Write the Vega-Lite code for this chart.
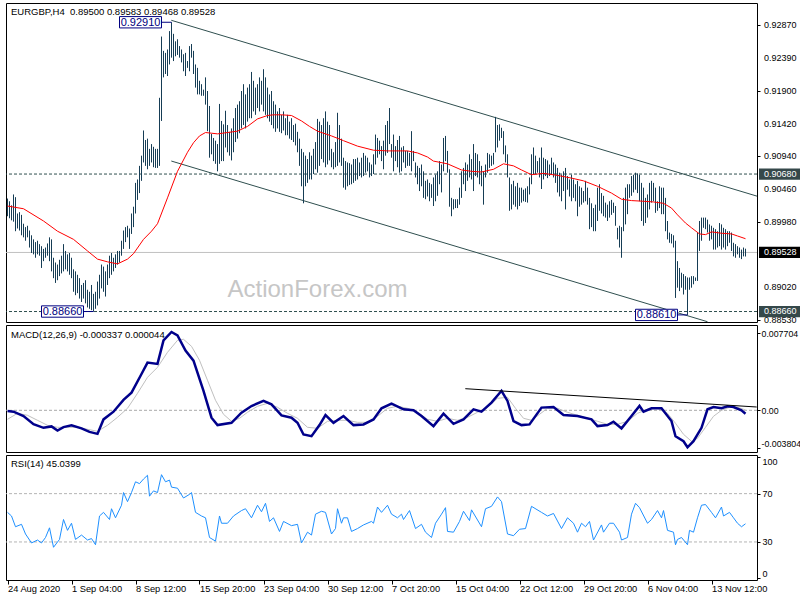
{
"$schema": "https://vega.github.io/schema/vega-lite/v6.json",
"background": "white",
"padding": {"left": 2, "top": 2, "right": 0, "bottom": 0},
"spacing": 3,
"bounds": "flush",
"config": {"view": {"stroke": "#000", "strokeWidth": 1}, "font": "Liberation Sans", "axis": {"labelFont": "Liberation Sans"}},
"datasets": {
"bars": [
{"i":0,"h":0.9032,"l":0.9006},{"i":1,"h":0.9028,"l":0.9003},{"i":2,"h":0.9022,"l":0.9000},{"i":3,"h":0.9038,"l":0.8998},{"i":4,"h":0.9034,"l":0.8984},{"i":5,"h":0.9010,"l":0.8988},{"i":6,"h":0.9012,"l":0.8985},{"i":7,"h":0.9008,"l":0.8978},{"i":8,"h":0.8995,"l":0.8975},{"i":9,"h":0.8990,"l":0.8970},
{"i":10,"h":0.8992,"l":0.8975},{"i":11,"h":0.8985,"l":0.8960},{"i":12,"h":0.8978,"l":0.8952},{"i":13,"h":0.8972,"l":0.8950},{"i":14,"h":0.8968,"l":0.8945},{"i":15,"h":0.8970,"l":0.8950},{"i":16,"h":0.8965,"l":0.8948},{"i":17,"h":0.8962,"l":0.8930},{"i":18,"h":0.8958,"l":0.8940},{"i":19,"h":0.8960,"l":0.8945},
{"i":20,"h":0.8966,"l":0.8948},{"i":21,"h":0.8975,"l":0.8940},{"i":22,"h":0.8972,"l":0.8925},{"i":23,"h":0.8945,"l":0.8915},{"i":24,"h":0.8938,"l":0.8908},{"i":25,"h":0.8935,"l":0.8912},{"i":26,"h":0.8942,"l":0.8918},{"i":27,"h":0.8948,"l":0.8922},{"i":28,"h":0.8965,"l":0.8925},{"i":29,"h":0.8955,"l":0.8928},
{"i":30,"h":0.8950,"l":0.8925},{"i":31,"h":0.8952,"l":0.8920},{"i":32,"h":0.8945,"l":0.8915},{"i":33,"h":0.8928,"l":0.8895},{"i":34,"h":0.8925,"l":0.8890},{"i":35,"h":0.8920,"l":0.8893},{"i":36,"h":0.8915,"l":0.8885},{"i":37,"h":0.8905,"l":0.8880},{"i":38,"h":0.8908,"l":0.8885},{"i":39,"h":0.8912,"l":0.8878},
{"i":40,"h":0.8898,"l":0.8872},{"i":41,"h":0.8895,"l":0.8870},{"i":42,"h":0.8905,"l":0.8868},{"i":43,"h":0.8892,"l":0.8866},{"i":44,"h":0.8895,"l":0.8870},{"i":45,"h":0.8910,"l":0.8875},{"i":46,"h":0.8920,"l":0.8885},{"i":47,"h":0.8935,"l":0.8900},{"i":48,"h":0.8932,"l":0.8895},{"i":49,"h":0.8925,"l":0.8888},
{"i":50,"h":0.8935,"l":0.8905},{"i":51,"h":0.8948,"l":0.8915},{"i":52,"h":0.8952,"l":0.8920},{"i":53,"h":0.8945,"l":0.8925},{"i":54,"h":0.8950,"l":0.8930},{"i":55,"h":0.8955,"l":0.8935},{"i":56,"h":0.8955,"l":0.8938},{"i":57,"h":0.8970,"l":0.8948},{"i":58,"h":0.8985,"l":0.8958},{"i":59,"h":0.8990,"l":0.8968},
{"i":60,"h":0.8992,"l":0.8975},{"i":61,"h":0.8988,"l":0.8958},{"i":62,"h":0.9010,"l":0.8980},{"i":63,"h":0.9020,"l":0.8990},{"i":64,"h":0.9055,"l":0.9010},{"i":65,"h":0.9060,"l":0.9030},{"i":66,"h":0.9080,"l":0.9040},{"i":67,"h":0.9095,"l":0.9058},{"i":68,"h":0.9132,"l":0.9085},{"i":69,"h":0.9118,"l":0.9080},
{"i":70,"h":0.9120,"l":0.9075},{"i":71,"h":0.9105,"l":0.9080},{"i":72,"h":0.9112,"l":0.9085},{"i":73,"h":0.9108,"l":0.9078},{"i":74,"h":0.9105,"l":0.9077},{"i":75,"h":0.9105,"l":0.9077},{"i":76,"h":0.9180,"l":0.9080},{"i":77,"h":0.9270,"l":0.9146},{"i":78,"h":0.9249,"l":0.9210},{"i":79,"h":0.9246,"l":0.9215},
{"i":80,"h":0.9251,"l":0.9212},{"i":81,"h":0.9278,"l":0.9229},{"i":82,"h":0.9291,"l":0.9239},{"i":83,"h":0.9274,"l":0.9234},{"i":84,"h":0.9263,"l":0.9241},{"i":85,"h":0.9266,"l":0.9243},{"i":86,"h":0.9256,"l":0.9239},{"i":87,"h":0.9251,"l":0.9232},{"i":88,"h":0.9244,"l":0.9219},{"i":89,"h":0.9246,"l":0.9212},
{"i":90,"h":0.9234,"l":0.9224},{"i":91,"h":0.9256,"l":0.9219},{"i":92,"h":0.9259,"l":0.9239},{"i":93,"h":0.9249,"l":0.9215},{"i":94,"h":0.9229,"l":0.9195},{"i":95,"h":0.9224,"l":0.9185},{"i":96,"h":0.9205,"l":0.9185},{"i":97,"h":0.9200,"l":0.9183},{"i":98,"h":0.9192,"l":0.9183},{"i":99,"h":0.9210,"l":0.9170},
{"i":100,"h":0.9190,"l":0.9131},{"i":101,"h":0.9168,"l":0.9092},{"i":102,"h":0.9127,"l":0.9097},{"i":103,"h":0.9121,"l":0.9087},{"i":104,"h":0.9117,"l":0.9083},{"i":105,"h":0.9112,"l":0.9072},{"i":106,"h":0.9171,"l":0.9083},{"i":107,"h":0.9146,"l":0.9087},{"i":108,"h":0.9141,"l":0.9087},{"i":109,"h":0.9161,"l":0.9107},
{"i":110,"h":0.9140,"l":0.9100},{"i":111,"h":0.9130,"l":0.9095},{"i":112,"h":0.9135,"l":0.9088},{"i":113,"h":0.9150,"l":0.9100},{"i":114,"h":0.9165,"l":0.9115},{"i":115,"h":0.9170,"l":0.9120},{"i":116,"h":0.9175,"l":0.9128},{"i":117,"h":0.9190,"l":0.9135},{"i":118,"h":0.9200,"l":0.9140},{"i":119,"h":0.9185,"l":0.9135},
{"i":120,"h":0.9195,"l":0.9145},{"i":121,"h":0.9200,"l":0.9150},{"i":122,"h":0.9218,"l":0.9150},{"i":123,"h":0.9205,"l":0.9160},{"i":124,"h":0.9195,"l":0.9155},{"i":125,"h":0.9200,"l":0.9165},{"i":126,"h":0.9210,"l":0.9160},{"i":127,"h":0.9205,"l":0.9170},{"i":128,"h":0.9222,"l":0.9160},{"i":129,"h":0.9210,"l":0.9155},
{"i":130,"h":0.9195,"l":0.9150},{"i":131,"h":0.9185,"l":0.9145},{"i":132,"h":0.9190,"l":0.9140},{"i":133,"h":0.9175,"l":0.9135},{"i":134,"h":0.9170,"l":0.9130},{"i":135,"h":0.9160,"l":0.9135},{"i":136,"h":0.9165,"l":0.9130},{"i":137,"h":0.9155,"l":0.9128},{"i":138,"h":0.9160,"l":0.9132},{"i":139,"h":0.9150,"l":0.9125},
{"i":140,"h":0.9155,"l":0.9125},{"i":141,"h":0.9145,"l":0.9120},{"i":142,"h":0.9150,"l":0.9118},{"i":143,"h":0.9140,"l":0.9115},{"i":144,"h":0.9142,"l":0.9110},{"i":145,"h":0.9130,"l":0.9100},{"i":146,"h":0.9120,"l":0.9080},{"i":147,"h":0.9105,"l":0.9050},{"i":148,"h":0.9100,"l":0.9025},{"i":149,"h":0.9095,"l":0.9050},
{"i":150,"h":0.9090,"l":0.9055},{"i":151,"h":0.9100,"l":0.9060},{"i":152,"h":0.9095,"l":0.9060},{"i":153,"h":0.9105,"l":0.9068},{"i":154,"h":0.9115,"l":0.9075},{"i":155,"h":0.9149,"l":0.9070},{"i":156,"h":0.9145,"l":0.9080},{"i":157,"h":0.9140,"l":0.9090},{"i":158,"h":0.9150,"l":0.9085},{"i":159,"h":0.9160,"l":0.9078},
{"i":160,"h":0.9145,"l":0.9082},{"i":161,"h":0.9140,"l":0.9088},{"i":162,"h":0.9105,"l":0.9078},{"i":163,"h":0.9100,"l":0.9075},{"i":164,"h":0.9115,"l":0.9078},{"i":165,"h":0.9158,"l":0.9080},{"i":166,"h":0.9140,"l":0.9085},{"i":167,"h":0.9120,"l":0.9080},{"i":168,"h":0.9092,"l":0.9048},{"i":169,"h":0.9087,"l":0.9045},
{"i":170,"h":0.9085,"l":0.9050},{"i":171,"h":0.9084,"l":0.9052},{"i":172,"h":0.9082,"l":0.9053},{"i":173,"h":0.9090,"l":0.9055},{"i":174,"h":0.9090,"l":0.9058},{"i":175,"h":0.9092,"l":0.9060},{"i":176,"h":0.9085,"l":0.9065},{"i":177,"h":0.9092,"l":0.9063},{"i":178,"h":0.9099,"l":0.9065},{"i":179,"h":0.9095,"l":0.9070},
{"i":180,"h":0.9092,"l":0.9072},{"i":181,"h":0.9085,"l":0.9063},{"i":182,"h":0.9082,"l":0.9065},{"i":183,"h":0.9097,"l":0.9068},{"i":184,"h":0.9126,"l":0.9082},{"i":185,"h":0.9121,"l":0.9092},{"i":186,"h":0.9117,"l":0.9097},{"i":187,"h":0.9109,"l":0.9087},{"i":188,"h":0.9117,"l":0.9075},{"i":189,"h":0.9140,"l":0.9095},
{"i":190,"h":0.9146,"l":0.9099},{"i":191,"h":0.9165,"l":0.9112},{"i":192,"h":0.9112,"l":0.9092},{"i":193,"h":0.9126,"l":0.9072},{"i":194,"h":0.9109,"l":0.9087},{"i":195,"h":0.9118,"l":0.9078},{"i":196,"h":0.9124,"l":0.9070},{"i":197,"h":0.9107,"l":0.9072},{"i":198,"h":0.9109,"l":0.9085},{"i":199,"h":0.9102,"l":0.9077},
{"i":200,"h":0.9102,"l":0.9080},{"i":201,"h":0.9099,"l":0.9080},{"i":202,"h":0.9131,"l":0.9072},{"i":203,"h":0.9102,"l":0.9087},{"i":204,"h":0.9085,"l":0.9063},{"i":205,"h":0.9080,"l":0.9053},{"i":206,"h":0.9077,"l":0.9043},{"i":207,"h":0.9082,"l":0.9050},{"i":208,"h":0.9072,"l":0.9033},{"i":209,"h":0.9058,"l":0.9031},
{"i":210,"h":0.9060,"l":0.9035},{"i":211,"h":0.9055,"l":0.9028},{"i":212,"h":0.9053,"l":0.9033},{"i":213,"h":0.9063,"l":0.9021},{"i":214,"h":0.9067,"l":0.9028},{"i":215,"h":0.9072,"l":0.9036},{"i":216,"h":0.9087,"l":0.9053},{"i":217,"h":0.9082,"l":0.9041},{"i":218,"h":0.9121,"l":0.9072},{"i":219,"h":0.9124,"l":0.9087},
{"i":220,"h":0.9102,"l":0.9070},{"i":221,"h":0.9075,"l":0.9020},{"i":222,"h":0.9033,"l":0.9006},{"i":223,"h":0.9031,"l":0.9016},{"i":224,"h":0.9031,"l":0.9018},{"i":225,"h":0.9031,"l":0.9018},{"i":226,"h":0.9048,"l":0.9023},{"i":227,"h":0.9072,"l":0.9033},{"i":228,"h":0.9077,"l":0.9053},{"i":229,"h":0.9085,"l":0.9043},
{"i":230,"h":0.9082,"l":0.9058},{"i":231,"h":0.9097,"l":0.9063},{"i":232,"h":0.9090,"l":0.9060},{"i":233,"h":0.9112,"l":0.9043},{"i":234,"h":0.9099,"l":0.9065},{"i":235,"h":0.9097,"l":0.9063},{"i":236,"h":0.9087,"l":0.9053},{"i":237,"h":0.9080,"l":0.9050},{"i":238,"h":0.9072,"l":0.9023},{"i":239,"h":0.9082,"l":0.9063},
{"i":240,"h":0.9099,"l":0.9070},{"i":241,"h":0.9097,"l":0.9077},{"i":242,"h":0.9095,"l":0.9080},{"i":243,"h":0.9099,"l":0.9082},{"i":244,"h":0.9152,"l":0.9100},{"i":245,"h":0.9140,"l":0.9107},{"i":246,"h":0.9141,"l":0.9117},{"i":247,"h":0.9136,"l":0.9121},{"i":248,"h":0.9131,"l":0.9097},{"i":249,"h":0.9110,"l":0.9085},
{"i":250,"h":0.9097,"l":0.9063},{"i":251,"h":0.9063,"l":0.9014},{"i":252,"h":0.9053,"l":0.9016},{"i":253,"h":0.9058,"l":0.9023},{"i":254,"h":0.9050,"l":0.9020},{"i":255,"h":0.9055,"l":0.9016},{"i":256,"h":0.9048,"l":0.9021},{"i":257,"h":0.9048,"l":0.9026},{"i":258,"h":0.9045,"l":0.9028},{"i":259,"h":0.9047,"l":0.9027},
{"i":260,"h":0.9050,"l":0.9026},{"i":261,"h":0.9063,"l":0.9038},{"i":262,"h":0.9097,"l":0.9053},{"i":263,"h":0.9107,"l":0.9068},{"i":264,"h":0.9095,"l":0.9068},{"i":265,"h":0.9087,"l":0.9070},{"i":266,"h":0.9092,"l":0.9063},{"i":267,"h":0.9107,"l":0.9046},{"i":268,"h":0.9092,"l":0.9060},{"i":269,"h":0.9090,"l":0.9065},
{"i":270,"h":0.9088,"l":0.9062},{"i":271,"h":0.9082,"l":0.9065},{"i":272,"h":0.9092,"l":0.9067},{"i":273,"h":0.9085,"l":0.9063},{"i":274,"h":0.9082,"l":0.9055},{"i":275,"h":0.9077,"l":0.9041},{"i":276,"h":0.9070,"l":0.9035},{"i":277,"h":0.9067,"l":0.9028},{"i":278,"h":0.9072,"l":0.9043},{"i":279,"h":0.9077,"l":0.9016},
{"i":280,"h":0.9065,"l":0.9045},{"i":281,"h":0.9060,"l":0.9035},{"i":282,"h":0.9067,"l":0.9028},{"i":283,"h":0.9060,"l":0.9033},{"i":284,"h":0.9053,"l":0.9028},{"i":285,"h":0.9058,"l":0.9006},{"i":286,"h":0.9050,"l":0.9020},{"i":287,"h":0.9048,"l":0.9023},{"i":288,"h":0.9043,"l":0.9026},{"i":289,"h":0.9058,"l":0.9028},
{"i":290,"h":0.9048,"l":0.9023},{"i":291,"h":0.9033,"l":0.8987},{"i":292,"h":0.9025,"l":0.8990},{"i":293,"h":0.9018,"l":0.8984},{"i":294,"h":0.9023,"l":0.8984},{"i":295,"h":0.9048,"l":0.8999},{"i":296,"h":0.9053,"l":0.9014},{"i":297,"h":0.9040,"l":0.9010},{"i":298,"h":0.9036,"l":0.9006},{"i":299,"h":0.9026,"l":0.9004},
{"i":300,"h":0.9023,"l":0.8999},{"i":301,"h":0.9028,"l":0.9004},{"i":302,"h":0.9030,"l":0.9008},{"i":303,"h":0.9026,"l":0.9011},{"i":304,"h":0.9021,"l":0.8992},{"i":305,"h":0.8989,"l":0.8972},{"i":306,"h":0.8992,"l":0.8960},{"i":307,"h":0.8990,"l":0.8945},{"i":308,"h":0.9033,"l":0.8984},{"i":309,"h":0.9048,"l":0.8994},
{"i":310,"h":0.9053,"l":0.9009},{"i":311,"h":0.9053,"l":0.9033},{"i":312,"h":0.9065,"l":0.9036},{"i":313,"h":0.9067,"l":0.9041},{"i":314,"h":0.9070,"l":0.9045},{"i":315,"h":0.9069,"l":0.9040},{"i":316,"h":0.9067,"l":0.9028},{"i":317,"h":0.9055,"l":0.8999},{"i":318,"h":0.9048,"l":0.8992},{"i":319,"h":0.9033,"l":0.8996},
{"i":320,"h":0.9038,"l":0.9004},{"i":321,"h":0.9055,"l":0.9016},{"i":322,"h":0.9058,"l":0.9026},{"i":323,"h":0.9055,"l":0.9028},{"i":324,"h":0.9048,"l":0.9011},{"i":325,"h":0.9028,"l":0.9014},{"i":326,"h":0.9050,"l":0.9018},{"i":327,"h":0.9048,"l":0.9009},{"i":328,"h":0.9048,"l":0.9009},{"i":329,"h":0.9033,"l":0.8984},
{"i":330,"h":0.8999,"l":0.8972},{"i":331,"h":0.8982,"l":0.8967},{"i":332,"h":0.8980,"l":0.8966},{"i":333,"h":0.8978,"l":0.8960},{"i":334,"h":0.8970,"l":0.8886},{"i":335,"h":0.8940,"l":0.8901},{"i":336,"h":0.8930,"l":0.8896},{"i":337,"h":0.8923,"l":0.8901},{"i":338,"h":0.8921,"l":0.8891},{"i":339,"h":0.8918,"l":0.8898},
{"i":340,"h":0.8916,"l":0.8861},{"i":341,"h":0.8916,"l":0.8898},{"i":342,"h":0.8918,"l":0.8901},{"i":343,"h":0.8918,"l":0.8906},{"i":344,"h":0.8916,"l":0.8911},{"i":345,"h":0.8982,"l":0.8911},{"i":346,"h":0.8999,"l":0.8955},{"i":347,"h":0.9004,"l":0.8970},{"i":348,"h":0.9004,"l":0.8989},{"i":349,"h":0.9004,"l":0.8987},
{"i":350,"h":0.9001,"l":0.8982},{"i":351,"h":0.8994,"l":0.8970},{"i":352,"h":0.8992,"l":0.8972},{"i":353,"h":0.8989,"l":0.8957},{"i":354,"h":0.8987,"l":0.8957},{"i":355,"h":0.8984,"l":0.8960},{"i":356,"h":0.8996,"l":0.8962},{"i":357,"h":0.8994,"l":0.8957},{"i":358,"h":0.8989,"l":0.8960},{"i":359,"h":0.8987,"l":0.8957},
{"i":360,"h":0.8984,"l":0.8962},{"i":361,"h":0.8984,"l":0.8967},{"i":362,"h":0.8982,"l":0.8955},{"i":363,"h":0.8967,"l":0.8947},{"i":364,"h":0.8965,"l":0.8945},{"i":365,"h":0.8962,"l":0.8950},{"i":366,"h":0.8960,"l":0.8945},{"i":367,"h":0.8957,"l":0.8943},{"i":368,"h":0.8960,"l":0.8947},{"i":369,"h":0.89583,"l":0.89468}
],
"ma": [
{"i":0,"m":0.9021},{"i":8,"m":0.9017},{"i":18,"m":0.8999},{"i":25,"m":0.8984},{"i":33,"m":0.8972},{"i":40,"m":0.8955},{"i":45,"m":0.8943},{"i":50,"m":0.8939},{"i":55,"m":0.8936},{"i":60,"m":0.8943},{"i":63,"m":0.8951},{"i":68,"m":0.8972},{"i":72,"m":0.8984},{"i":75,"m":0.8995},{"i":80,"m":0.9033},{"i":85,"m":0.9072},{"i":90,"m":0.9100},{"i":93,"m":0.9114},{"i":96,"m":0.9124},{"i":99,"m":0.9129},{"i":102,"m":0.9128},{"i":105,"m":0.9127},{"i":110,"m":0.9129},{"i":115,"m":0.9131},{"i":120,"m":0.9138},{"i":125,"m":0.9149},{"i":130,"m":0.9154},{"i":133,"m":0.9155},{"i":137,"m":0.9155},{"i":142,"m":0.9154},{"i":147,"m":0.9146},{"i":151,"m":0.9138},{"i":155,"m":0.9131},{"i":162,"m":0.9124},{"i":168,"m":0.9117},{"i":175,"m":0.9109},{"i":183,"m":0.9103},{"i":190,"m":0.9102},{"i":200,"m":0.9102},{"i":205,"m":0.9099},{"i":210,"m":0.9093},{"i":213,"m":0.9087},{"i":220,"m":0.9083},{"i":227,"m":0.9074},{"i":232,"m":0.9072},{"i":237,"m":0.9071},{"i":243,"m":0.9075},{"i":248,"m":0.9083},{"i":253,"m":0.9080},{"i":257,"m":0.9074},{"i":262,"m":0.9067},{"i":268,"m":0.9069},{"i":275,"m":0.9066},{"i":282,"m":0.9062},{"i":288,"m":0.9058},{"i":295,"m":0.9050},{"i":302,"m":0.9040},{"i":307,"m":0.9031},{"i":312,"m":0.9029},{"i":318,"m":0.9028},{"i":323,"m":0.9027},{"i":328,"m":0.9025},{"i":332,"m":0.9018},{"i":335,"m":0.9008},{"i":339,"m":0.8996},{"i":342,"m":0.8989},{"i":346,"m":0.8980},{"i":349,"m":0.8979},{"i":352,"m":0.8983},{"i":357,"m":0.8981},{"i":362,"m":0.8980},{"i":365,"m":0.8977},{"i":369,"m":0.8973}
],
"chan": [{"g":"up","i":81.9,"p":0.92939},{"g":"up","i":374.75,"p":0.90355},{"g":"lo","i":81.9,"p":0.90871},{"g":"lo","i":350,"p":0.8851}],
"ann": [{"i":82,"p":0.9291,"t":"0.92910"},{"i":43,"p":0.8866,"t":"0.88660"},{"i":340,"p":0.8861,"t":"0.88610"}],
"hl": [{"p":0.9068,"t":"0.90680","k":"level"},{"p":0.89528,"t":"0.89528","k":"bid"},{"p":0.8866,"t":"0.88660","k":"level"}],
"yl": [{"p":0.9287},{"p":0.9239},{"p":0.919},{"p":0.9142},{"p":0.9094},{"p":0.9046},{"p":0.8998},{"p":0.8902},{"p":0.8853}],
"macd": [
{"i":0,"d":-0.00007},{"i":3,"d":-0.00014},{"i":8,"d":-0.00057},{"i":13,"d":-0.00138},{"i":18,"d":-0.00175},{"i":22,"d":-0.00161},{"i":25,"d":-0.00202},{"i":28,"d":-0.00168},{"i":32,"d":-0.00151},{"i":37,"d":-0.00181},{"i":41,"d":-0.00216},{"i":45,"d":-0.00236},{"i":48,"d":-0.00091},{"i":53,"d":-0.00014},{"i":58,"d":0.00104},{"i":62,"d":0.00177},{"i":67,"d":0.00363},{"i":70,"d":0.00477},{"i":75,"d":0.00464},{"i":78,"d":0.00699},{"i":82,"d":0.00783},{"i":85,"d":0.00749},{"i":89,"d":0.00598},{"i":93,"d":0.00497},{"i":98,"d":0.00195},{"i":102,"d":-0.00074},{"i":105,"d":-0.00148},{"i":112,"d":-0.00125},{"i":117,"d":-0.00024},{"i":122,"d":0.00043},{"i":128,"d":0.00094},{"i":132,"d":0.0006},{"i":137,"d":-0.00051},{"i":142,"d":-0.00074},{"i":145,"d":-0.00125},{"i":148,"d":-0.00242},{"i":152,"d":-0.00259},{"i":156,"d":-0.00148},{"i":159,"d":-0.00047},{"i":163,"d":-0.00125},{"i":168,"d":-0.00057},{"i":173,"d":-0.00148},{"i":178,"d":-0.00141},{"i":183,"d":-0.00091},{"i":187,"d":0.0002},{"i":192,"d":0.00067},{"i":198,"d":0.0001},{"i":203,"d":0},{"i":207,"d":-0.00057},{"i":213,"d":-0.00158},{"i":218,"d":-0.00034},{"i":223,"d":-0.00135},{"i":228,"d":-0.00091},{"i":233,"d":0.0001},{"i":237,"d":-0.00014},{"i":242,"d":0.00077},{"i":247,"d":0.00195},{"i":250,"d":0.00094},{"i":253,"d":-0.00108},{"i":257,"d":-0.00148},{"i":261,"d":-0.00141},{"i":267,"d":0.00027},{"i":273,"d":0.00033},{"i":278,"d":-0.00047},{"i":285,"d":-0.00057},{"i":292,"d":-0.00091},{"i":295,"d":-0.00158},{"i":300,"d":-0.00148},{"i":303,"d":-0.00114},{"i":307,"d":-0.00181},{"i":312,"d":-0.00057},{"i":316,"d":0.00044},{"i":318,"d":-0.00014},{"i":322,"d":0.0002},{"i":327,"d":0.0002},{"i":332,"d":-0.00108},{"i":334,"d":-0.00259},{"i":338,"d":-0.00309},{"i":340,"d":-0.0037},{"i":343,"d":-0.00309},{"i":347,"d":-0.00175},{"i":350,"d":0.0001},{"i":353,"d":0.00033},{"i":357,"d":0.0002},{"i":360,"d":0.0004},{"i":363,"d":0.00033},{"i":367,"d":0},{"i":369,"d":-0.00034}
],
"sig": [
{"i":0,"s":-0.0009},{"i":5,"s":-0.0003},{"i":10,"s":-0.0005},{"i":15,"s":-0.001},{"i":20,"s":-0.0015},{"i":25,"s":-0.0017},{"i":30,"s":-0.0017},{"i":35,"s":-0.0017},{"i":40,"s":-0.0019},{"i":45,"s":-0.0021},{"i":50,"s":-0.0015},{"i":55,"s":-0.0007},{"i":60,"s":0.0002},{"i":65,"s":0.0017},{"i":70,"s":0.0033},{"i":75,"s":0.0043},{"i":80,"s":0.0058},{"i":85,"s":0.007},{"i":88,"s":0.0071},{"i":92,"s":0.0064},{"i":96,"s":0.005},{"i":100,"s":0.003},{"i":104,"s":0.001},{"i":108,"s":-0.0004},{"i":112,"s":-0.0011},{"i":116,"s":-0.0008},{"i":120,"s":-0.0002},{"i":125,"s":0.0004},{"i":130,"s":0.0007},{"i":135,"s":0.0003},{"i":140,"s":-0.0003},{"i":145,"s":-0.0008},{"i":150,"s":-0.0017},{"i":155,"s":-0.0018},{"i":160,"s":-0.0011},{"i":165,"s":-0.001},{"i":170,"s":-0.001},{"i":175,"s":-0.0012},{"i":180,"s":-0.0012},{"i":185,"s":-0.0006},{"i":190,"s":0.0002},{"i":195,"s":0.0004},{"i":200,"s":0.0002},{"i":205,"s":-0.0002},{"i":210,"s":-0.0009},{"i":215,"s":-0.0011},{"i":220,"s":-0.0008},{"i":225,"s":-0.001},{"i":230,"s":-0.0007},{"i":235,"s":-0.0002},{"i":240,"s":0.0003},{"i":245,"s":0.0012},{"i":250,"s":0.0013},{"i":254,"s":0.0002},{"i":258,"s":-0.0008},{"i":262,"s":-0.001},{"i":266,"s":-0.0004},{"i":270,"s":0.0002},{"i":275,"s":0.0002},{"i":280,"s":-0.0002},{"i":285,"s":-0.0005},{"i":290,"s":-0.0008},{"i":295,"s":-0.0011},{"i":300,"s":-0.0014},{"i":305,"s":-0.0014},{"i":310,"s":-0.0011},{"i":315,"s":-0.0003},{"i":320,"s":0.0001},{"i":325,"s":0.0002},{"i":330,"s":-0.0003},{"i":334,"s":-0.0013},{"i":338,"s":-0.0024},{"i":342,"s":-0.0031},{"i":345,"s":-0.0028},{"i":349,"s":-0.0017},{"i":353,"s":-0.0006},{"i":357,"s":0},{"i":361,"s":0.0003},{"i":365,"s":0.0003},{"i":369,"s":0.00004}
],
"mtl": [{"i":228.9,"v":0.00216},{"i":374.6,"v":0.00033}],
"rsi": [
{"i":0,"r":54.5},{"i":2,"r":51.5},{"i":4,"r":42.6},{"i":7,"r":44.6},{"i":9,"r":36.6},{"i":12,"r":29.2},{"i":15,"r":31.6},{"i":17,"r":29.2},{"i":19,"r":33.7},{"i":21,"r":41.7},{"i":23,"r":25.6},{"i":26,"r":32.1},{"i":28,"r":48.6},{"i":30,"r":39.6},{"i":32,"r":45.5},{"i":34,"r":32.1},{"i":37,"r":35.7},{"i":40,"r":31.6},{"i":42,"r":32.8},{"i":44,"r":27.7},{"i":46,"r":51.5},{"i":48,"r":54.5},{"i":51,"r":48.6},{"i":52,"r":57.5},{"i":54,"r":50},{"i":57,"r":60.4},{"i":58,"r":70.9},{"i":60,"r":63.4},{"i":62,"r":70.9},{"i":64,"r":79.8},{"i":66,"r":78.3},{"i":68,"r":82.1},{"i":70,"r":85.2},{"i":71,"r":67.9},{"i":73,"r":72.3},{"i":75,"r":70.9},{"i":77,"r":85.7},{"i":79,"r":79.8},{"i":81,"r":81.2},{"i":82,"r":75.4},{"i":85,"r":74.5},{"i":88,"r":66.4},{"i":91,"r":69.4},{"i":92,"r":70.9},{"i":94,"r":54.5},{"i":97,"r":51.5},{"i":99,"r":50},{"i":101,"r":33.7},{"i":104,"r":30.7},{"i":106,"r":51.5},{"i":107,"r":45.5},{"i":110,"r":45.5},{"i":113,"r":51.5},{"i":117,"r":56},{"i":119,"r":57.5},{"i":122,"r":50},{"i":125,"r":60.4},{"i":127,"r":55},{"i":129,"r":62},{"i":131,"r":47},{"i":133,"r":50},{"i":136,"r":38.7},{"i":138,"r":47},{"i":142,"r":43.5},{"i":145,"r":44.6},{"i":147,"r":29.2},{"i":150,"r":38.1},{"i":152,"r":35.7},{"i":154,"r":53},{"i":157,"r":55.4},{"i":159,"r":54.5},{"i":162,"r":36.6},{"i":164,"r":41.1},{"i":165,"r":57.5},{"i":167,"r":45.5},{"i":168,"r":50},{"i":170,"r":50},{"i":172,"r":38.7},{"i":175,"r":41.1},{"i":178,"r":44.1},{"i":182,"r":47},{"i":183,"r":45.5},{"i":185,"r":58.9},{"i":187,"r":54.5},{"i":190,"r":60.4},{"i":192,"r":53},{"i":195,"r":50},{"i":197,"r":53},{"i":198,"r":48.6},{"i":201,"r":56},{"i":204,"r":41.1},{"i":207,"r":44.6},{"i":209,"r":38.1},{"i":212,"r":33.7},{"i":214,"r":45.5},{"i":217,"r":53},{"i":219,"r":58.4},{"i":220,"r":38.7},{"i":223,"r":38.1},{"i":226,"r":47},{"i":228,"r":55.4},{"i":231,"r":47.7},{"i":232,"r":56.6},{"i":237,"r":42.6},{"i":239,"r":57.5},{"i":242,"r":59.5},{"i":245,"r":67.3},{"i":247,"r":63.4},{"i":250,"r":36.6},{"i":253,"r":35.2},{"i":256,"r":40.5},{"i":259,"r":41.1},{"i":262,"r":59.5},{"i":267,"r":54.5},{"i":270,"r":51.5},{"i":273,"r":53.6},{"i":277,"r":41.1},{"i":280,"r":50},{"i":283,"r":45.5},{"i":285,"r":38.1},{"i":287,"r":45.5},{"i":289,"r":42.6},{"i":291,"r":47},{"i":293,"r":31.6},{"i":297,"r":44.1},{"i":298,"r":38.1},{"i":301,"r":45.5},{"i":303,"r":45.5},{"i":306,"r":38.1},{"i":307,"r":31.6},{"i":310,"r":33.7},{"i":312,"r":53},{"i":314,"r":62},{"i":316,"r":58.4},{"i":320,"r":45.5},{"i":322,"r":48.6},{"i":325,"r":56},{"i":327,"r":50},{"i":328,"r":56},{"i":330,"r":39.6},{"i":333,"r":38.1},{"i":334,"r":27.7},{"i":335,"r":32.1},{"i":337,"r":33.7},{"i":340,"r":27.7},{"i":341,"r":39.6},{"i":343,"r":38.1},{"i":345,"r":50},{"i":347,"r":60.4},{"i":349,"r":61},{"i":352,"r":54.5},{"i":354,"r":50},{"i":357,"r":58.9},{"i":358,"r":51.5},{"i":361,"r":54.5},{"i":363,"r":50},{"i":365,"r":45.5},{"i":367,"r":42.6},{"i":369,"r":45.04}
],
"lv": [{"v":70},{"v":30}]
},
"vconcat": [
{
"width": 751, "height": 319,
"layer": [
{"data": {"values": [{}]}, "mark": {"type": "text", "text": "ActionForex.com", "fontSize": 24, "color": "#c6c6c6", "align": "center", "baseline": "middle"},
 "encoding": {"x": {"datum": 155, "type": "quantitative", "scale": {"domain": [-0.75, 374.75], "nice": false, "zero": false}, "axis": null},
  "y": {"datum": 0.8897, "type": "quantitative", "scale": {"domain": [0.88506, 0.93193], "nice": false, "zero": false},
   "axis": {"orient": "right", "values": [0.9287, 0.9239, 0.919, 0.9142, 0.9094, 0.9046, 0.8998, 0.8902, 0.8853], "labels": false, "title": null, "grid": false, "domain": false, "tickSize": 3, "tickColor": "#000"}}}},
{"data": {"values": [{}]}, "mark": {"type": "rule", "color": "#c0c0c0", "strokeWidth": 1},
 "encoding": {"y": {"datum": 0.89528, "type": "quantitative"}}},
{"data": {"values": [{"v": 0.9068}, {"v": 0.8866}]}, "mark": {"type": "rule", "color": "#2f4f4f", "strokeWidth": 1, "strokeDash": [3, 2]},
 "encoding": {"y": {"field": "v", "type": "quantitative"}}},
{"data": {"name": "chan"}, "mark": {"type": "line", "color": "#2f4f4f", "strokeWidth": 1},
 "encoding": {"x": {"field": "i", "type": "quantitative", "axis": null}, "y": {"field": "p", "type": "quantitative"}, "detail": {"field": "g"}}},
{"data": {"name": "bars"}, "mark": {"type": "rule", "color": "#163d55", "strokeWidth": 1},
 "encoding": {"x": {"field": "i", "type": "quantitative", "axis": null}, "y": {"field": "l", "type": "quantitative"}, "y2": {"field": "h"}}},
{"data": {"name": "ma"}, "mark": {"type": "line", "color": "#ff0000", "strokeWidth": 1},
 "encoding": {"x": {"field": "i", "type": "quantitative", "axis": null}, "y": {"field": "m", "type": "quantitative"}}},
{"data": {"name": "ann"}, "mark": {"type": "point", "shape": "M-1,-0.27H1V0.27H-1Z M1,0H1.476", "size": 1764, "filled": true, "fill": "white", "stroke": "#000080", "strokeWidth": 1, "opacity": 1, "xOffset": -31},
 "encoding": {"x": {"field": "i", "type": "quantitative", "axis": null}, "y": {"field": "p", "type": "quantitative"}}},
{"data": {"name": "ann"}, "mark": {"type": "text", "color": "#000080", "fontSize": 11, "align": "center", "baseline": "middle", "dx": -31, "dy": 0.5},
 "encoding": {"x": {"field": "i", "type": "quantitative", "axis": null}, "y": {"field": "p", "type": "quantitative"}, "text": {"field": "t"}}},
{"data": {"name": "yl"}, "mark": {"type": "text", "color": "#000", "fontSize": 9, "align": "left", "baseline": "middle", "dx": 7},
 "encoding": {"x": {"datum": 374.75, "type": "quantitative", "axis": null}, "y": {"field": "p", "type": "quantitative"}, "text": {"field": "p", "type": "quantitative", "format": ".5f"}}},
{"data": {"name": "hl"}, "mark": {"type": "point", "shape": "M-1,-0.25H1V0.25H-1Z", "size": 2025, "filled": true, "opacity": 1, "strokeWidth": 0, "xOffset": 24.5},
 "encoding": {"x": {"datum": 374.75, "type": "quantitative", "axis": null}, "y": {"field": "p", "type": "quantitative"},
  "color": {"field": "k", "type": "nominal", "scale": {"domain": ["level", "bid"], "range": ["#35484a", "#000000"]}, "legend": null}}},
{"data": {"name": "hl"}, "mark": {"type": "text", "color": "white", "fontSize": 9, "align": "left", "baseline": "middle", "dx": 7, "dy": -0.5},
 "encoding": {"x": {"datum": 374.75, "type": "quantitative", "axis": null}, "y": {"field": "p", "type": "quantitative"}, "text": {"field": "t"}}},
{"data": {"values": [{}]}, "mark": {"type": "text", "text": "EURGBP,H4 \u00a00.89500 0.89583 0.89468 0.89528", "fontSize": 9.5, "color": "#000", "align": "left", "baseline": "middle", "dx": 5, "dy": 9},
 "encoding": {"x": {"datum": -0.75, "type": "quantitative", "axis": null}, "y": {"datum": 0.93193, "type": "quantitative"}}}
]
},
{
"width": 751, "height": 127,
"layer": [
{"data": {"values": [{}]}, "mark": {"type": "rule", "color": "#a9a9a9", "strokeWidth": 1, "strokeDash": [3, 2]},
 "encoding": {"y": {"datum": 0, "type": "quantitative", "scale": {"domain": [-0.00417, 0.00853], "nice": false, "zero": false},
  "axis": {"orient": "right", "values": [0.007704, 0, -0.003804], "labelExpr": "datum.value > 0.005 ? '0.007704' : (datum.value < -0.003 ? '-0.003804' : '0.00')", "title": null, "grid": false, "domain": false, "tickSize": 3, "tickColor": "#000", "labelFontSize": 8.8, "labelColor": "#000", "labelPadding": 1, "labelOverlap": false, "labelFlush": false,
   "labelBaseline": {"expr": "datum.value < -0.003 ? 'bottom' : 'middle'"}}}}},
{"data": {"name": "sig"}, "mark": {"type": "line", "color": "#c0c0c0", "strokeWidth": 1},
 "encoding": {"x": {"field": "i", "type": "quantitative", "scale": {"domain": [-0.75, 374.75], "nice": false, "zero": false}, "axis": null}, "y": {"field": "s", "type": "quantitative"}}},
{"data": {"name": "macd"}, "mark": {"type": "line", "color": "#00008b", "strokeWidth": 2.5},
 "encoding": {"x": {"field": "i", "type": "quantitative", "axis": null}, "y": {"field": "d", "type": "quantitative"}}},
{"data": {"name": "mtl"}, "mark": {"type": "line", "color": "#000", "strokeWidth": 1},
 "encoding": {"x": {"field": "i", "type": "quantitative", "axis": null}, "y": {"field": "v", "type": "quantitative"}}},
{"data": {"values": [{}]}, "mark": {"type": "text", "text": "MACD(12,26,9) -0.000337 0.000044", "fontSize": 9.5, "color": "#000", "align": "left", "baseline": "middle", "dx": 5, "dy": 10},
 "encoding": {"x": {"datum": -0.75, "type": "quantitative", "axis": null}, "y": {"datum": 0.00853, "type": "quantitative"}}}
]
},
{
"width": 751, "height": 125,
"layer": [
{"data": {"name": "lv"}, "mark": {"type": "rule", "color": "#b4b4b4", "strokeWidth": 1, "strokeDash": [3, 2]},
 "encoding": {"y": {"field": "v", "type": "quantitative", "scale": {"domain": [-1.5, 102], "nice": false, "zero": false},
  "axis": {"orient": "right", "values": [100, 70, 30, 0], "title": null, "grid": false, "domain": false, "tickSize": 3, "tickColor": "#000", "labelFontSize": 9, "labelColor": "#000", "labelPadding": 2, "labelOverlap": false, "labelFlush": false,
   "labelBaseline": {"expr": "datum.value == 100 ? 'top' : (datum.value == 0 ? 'bottom' : 'middle')"}}}}},
{"data": {"name": "rsi"}, "mark": {"type": "line", "color": "#1e90ff", "strokeWidth": 1},
 "encoding": {"x": {"field": "i", "type": "quantitative", "scale": {"domain": [-0.75, 374.75], "nice": false, "zero": false},
   "axis": {"orient": "bottom", "values": [0, 32, 64, 96, 128, 160, 192, 224, 256, 288, 320, 352], "labelExpr": "['24 Aug 2020','1 Sep 04:00','8 Sep 12:00','15 Sep 20:00','23 Sep 04:00','30 Sep 12:00','7 Oct 20:00','15 Oct 04:00','22 Oct 12:00','29 Oct 20:00','6 Nov 04:00','13 Nov 12:00'][round(datum.value/32)]", "title": null, "grid": false, "domain": false, "tickSize": 4, "tickColor": "#000", "labelAlign": "left", "labelBaseline": "top", "labelFontSize": 9.3, "labelColor": "#000", "labelPadding": 0, "labelOverlap": false, "labelFlush": false}},
  "y": {"field": "r", "type": "quantitative"}}},
{"data": {"values": [{}]}, "mark": {"type": "text", "text": "RSI(14) 45.0399", "fontSize": 9.5, "color": "#000", "align": "left", "baseline": "middle", "dx": 5, "dy": 9},
 "encoding": {"x": {"datum": -0.75, "type": "quantitative"}, "y": {"datum": 102, "type": "quantitative"}}}
]
}
]
}
